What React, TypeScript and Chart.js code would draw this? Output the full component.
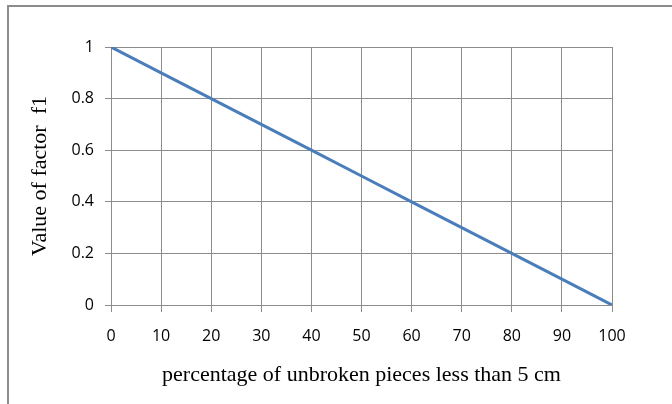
import React, { useEffect, useRef } from "react";
import { Chart, registerables } from "chart.js";

Chart.register(...registerables);

const xValues = [0, 10, 20, 30, 40, 50, 60, 70, 80, 90, 100];
const f1Values = [1, 0.9, 0.8, 0.7, 0.6, 0.5, 0.4, 0.3, 0.2, 0.1, 0];
const xTitle = "percentage of unbroken pieces less than 5 cm";
const yTitle = "Value of factor  f1";

export default function App() {
  const ref = useRef<HTMLCanvasElement | null>(null);

  useEffect(() => {
    document.body.style.margin = "0";
    document.body.style.overflow = "hidden";
    const canvas = ref.current;
    if (!canvas) return;
    const chart = new Chart(canvas, {
      type: "line",
      data: {
        datasets: [
          {
            data: xValues.map((x, i) => ({ x, y: f1Values[i] })),
            borderColor: "#4a7ebb",
            borderWidth: 3,
            pointRadius: 0,
            fill: false,
            tension: 0,
          },
        ],
      },
      options: {
        animation: false,
        responsive: false,
        maintainAspectRatio: false,
        layout: { padding: { left: 0, top: 47, right: 60, bottom: 0 } },
        plugins: { legend: { display: false }, tooltip: { enabled: false } },
        scales: {
          x: {
            type: "linear",
            min: 0,
            max: 100,
            ticks: {
              stepSize: 10,
              color: "#000",
              font: { family: "Open Sans", size: 16 },
              padding: 15,
            },
            grid: { color: "#8c8c8c", lineWidth: 1, tickLength: 7, drawTicks: true },
            border: { color: "#8c8c8c", width: 1 },
            title: {
              display: true,
              text: xTitle,
              color: "#000",
              font: { family: "Liberation Serif", size: 22 },
              padding: { top: 0, bottom: 16 },
            },
            afterFit: (s: any) => {
              s.height = 99;
            },
          },
          y: {
            type: "linear",
            min: 0,
            max: 1,
            ticks: {
              stepSize: 0.2,
              color: "#000",
              font: { family: "Open Sans", size: 16 },
              padding: 11,
              callback: (v: any) => String(Number(Number(v).toFixed(1))),
            },
            grid: { color: "#8c8c8c", lineWidth: 1, tickLength: 6 },
            border: { color: "#8c8c8c", width: 1 },
            title: {
              display: true,
              text: yTitle,
              color: "#000",
              font: { family: "Liberation Serif", size: 22 },
              padding: { top: 27, bottom: 0 },
            },
            afterFit: (s: any) => {
              s.width = 111;
            },
          },
        },
      },
    });
    return () => chart.destroy();
  }, []);

  return (
    <div style={{ position: "relative", width: 672, height: 404, overflow: "hidden", background: "#fff" }}>
      <div
        style={{
          position: "absolute",
          left: 7,
          top: 5,
          width: 700,
          height: 440,
          border: "2px solid #8c8c8c",
          boxSizing: "border-box",
        }}
      />
      <canvas ref={ref} width={672} height={404} style={{ position: "absolute", left: 0, top: 0, width: 672, height: 404 }} />
    </div>
  );
}
